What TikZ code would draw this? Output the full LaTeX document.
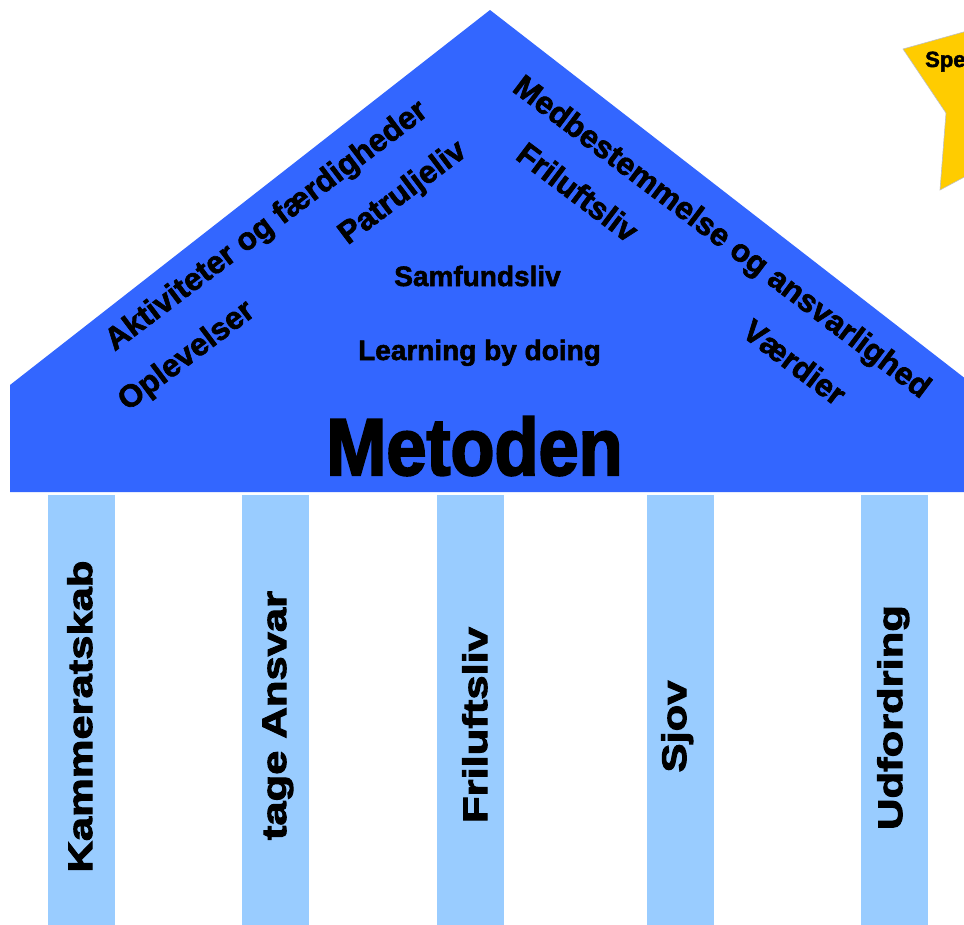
\documentclass[tikz,border=0pt]{standalone}
\usepackage{fontspec}
\setmainfont{Liberation Sans}
\newfontfamily\rooffont{Liberation Sans Bold}[FakeBold=2]
\newfontfamily\metfont{Liberation Sans Bold}[FakeBold=2.5,FakeStretch=0.89]
\newfontfamily\colfont{Liberation Sans Bold}[FakeBold=3,FakeStretch=1.28]
\definecolor{roofblue}{HTML}{3366FF}
\definecolor{pillarblue}{HTML}{99CCFF}
\definecolor{staryellow}{HTML}{FFCC00}
\begin{document}
\begin{tikzpicture}[x=1pt,y=-1pt,
  roofwall/.style={fill=roofblue,draw=none},
  pillar/.style={fill=pillarblue,draw=none},
  starfill/.style={fill=staryellow,draw=black!25,line width=0.6pt},
  rooftext/.style={inner sep=0pt,anchor=base,font=\rooffont\fontsize{28}{32}\selectfont},
  slanttext/.style={inner sep=0pt,anchor=base,font=\rooffont\fontsize{31.5}{36}\selectfont},
  bigtext/.style={inner sep=0pt,anchor=base,font=\metfont\fontsize{81}{90}\selectfont},
  coltext/.style={inner sep=0pt,anchor=base,rotate=90,font=\colfont\fontsize{34}{40}\selectfont},
  startext/.style={inner sep=0pt,anchor=base west,font=\rooffont\fontsize{22}{26}\selectfont}
]
\useasboundingbox (0,0) rectangle (964,924);
\clip (0,0) rectangle (964,924);
\fill[white] (0,0) rectangle (964,924);
% roof
\path[roofwall] (10,385) -- (490,10) -- (980,390) -- (980,492) -- (10,492) -- cycle;
% pillars
\path[pillar] (48,495) rectangle (115,930);
\path[pillar] (242,495) rectangle (309,930);
\path[pillar] (437,495) rectangle (504,930);
\path[pillar] (647,495) rectangle (714,930);
\path[pillar] (861,495) rectangle (928,930);
% star
\path[starfill] (903,49) -- (985,26) -- (985,166) -- (940,190) -- (946,113) -- cycle;
\node[startext] (spe) at (925,67) {Spe};
% roof texts
\node[slanttext,rotate=37] (akt) at (272,233) {Aktiviteter og færdigheder};
\node[slanttext,rotate=37] (opl) at (192,363) {Oplevelser};
\node[slanttext,rotate=37] (pat) at (408,200) {Patruljeliv};
\node[slanttext,rotate=-37] (med) at (716,245) {Medbestemmelse og ansvarlighed};
\node[slanttext,rotate=-37] (fri) at (571,201) {Friluftsliv};
\node[slanttext,rotate=-37] (vaer) at (788,371) {Værdier};
\node[rooftext] (sam) at (477.5,286) {Samfundsliv};
\node[rooftext] (lbd) at (479.5,360) {Learning by doing};
\node[bigtext] (met) at (474.5,475) {Metoden};
% pillar texts
\node[coltext] (kam) at (92,716.5) {Kammeratskab};
\node[coltext] (ans) at (286,715.5) {tage Ansvar};
\node[coltext] (fril) at (487,725) {Friluftsliv};
\node[coltext] (sjov) at (686,726.5) {Sjov};
\node[coltext] (udf) at (902,717.5) {Udfordring};
\end{tikzpicture}
\end{document}
